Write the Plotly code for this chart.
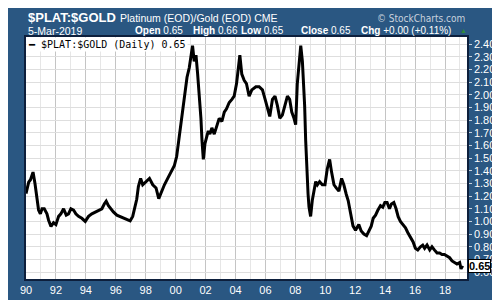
import plotly.graph_objects as go

# ---- data (decimal year, ratio) ----
YEARS = [
    1990.00, 1990.05, 1990.18, 1990.30, 1990.47, 1990.60, 1990.73, 1990.84, 1990.96,
    1991.07, 1991.22, 1991.40, 1991.51, 1991.67, 1991.84, 1992.00, 1992.18, 1992.33,
    1992.51, 1992.69, 1992.84, 1993.00, 1993.18, 1993.33, 1993.51, 1993.73, 1993.96,
    1994.18, 1994.40, 1994.62, 1994.84, 1995.07, 1995.24, 1995.36, 1995.51, 1995.67,
    1995.84, 1996.07, 1996.29, 1996.51, 1996.73, 1996.96, 1997.13, 1997.24, 1997.40,
    1997.51, 1997.66, 1997.80, 1998.02, 1998.25, 1998.47, 1998.69, 1998.87, 1999.02,
    1999.25, 1999.47, 1999.69, 1999.91, 2000.07, 2000.20, 2000.36, 2000.47, 2000.62,
    2000.76, 2000.91, 2001.02, 2001.13, 2001.24, 2001.36, 2001.47, 2001.58, 2001.69,
    2001.76, 2001.85, 2001.96, 2002.07, 2002.18, 2002.29, 2002.42, 2002.58, 2002.73,
    2002.91, 2003.09, 2003.25, 2003.40, 2003.58, 2003.76, 2003.91, 2004.07, 2004.20,
    2004.29, 2004.42, 2004.58, 2004.73, 2004.91, 2005.09, 2005.36, 2005.58, 2005.80,
    2005.98, 2006.13, 2006.29, 2006.47, 2006.64, 2006.80, 2006.96, 2007.13, 2007.31,
    2007.47, 2007.62, 2007.76, 2007.91, 2008.02, 2008.13, 2008.25, 2008.36, 2008.47,
    2008.54, 2008.62, 2008.69, 2008.76, 2008.85, 2008.91, 2009.02, 2009.13, 2009.25,
    2009.36, 2009.47, 2009.62, 2009.80, 2009.98, 2010.13, 2010.29, 2010.42, 2010.58,
    2010.73, 2010.91, 2011.09, 2011.24, 2011.40, 2011.53, 2011.69, 2011.85, 2012.02,
    2012.24, 2012.40, 2012.58, 2012.76, 2012.91, 2013.07, 2013.20, 2013.36, 2013.51,
    2013.69, 2013.84, 2013.98, 2014.13, 2014.29, 2014.42, 2014.58, 2014.73, 2014.87,
    2015.02, 2015.20, 2015.36, 2015.51, 2015.69, 2015.87, 2016.02, 2016.18, 2016.36,
    2016.51, 2016.64, 2016.80, 2016.98, 2017.13, 2017.29, 2017.47, 2017.64, 2017.80,
    2017.96, 2018.13, 2018.31, 2018.47, 2018.62, 2018.80, 2018.98, 2019.07, 2019.18,
]
RATIO = [
    1.22, 1.25, 1.31, 1.33, 1.39, 1.30, 1.175, 1.09, 1.06,
    1.10, 1.10, 1.06, 1.01, 0.96, 0.99, 0.975, 1.04, 1.06,
    1.10, 1.05, 1.06, 1.10, 1.09, 1.06, 1.04, 1.025, 1.00,
    1.04, 1.06, 1.075, 1.09, 1.10, 1.14, 1.16, 1.125, 1.10,
    1.075, 1.05, 1.04, 1.03, 1.02, 1.005, 1.04, 1.09, 1.175,
    1.275, 1.34, 1.29, 1.315, 1.34, 1.29, 1.265, 1.18, 1.23,
    1.29, 1.34, 1.39, 1.44, 1.515, 1.64, 1.765, 1.89, 2.015,
    2.14, 2.215, 2.29, 2.39, 2.265, 2.315, 2.165, 2.015, 1.815,
    1.64, 1.49, 1.615, 1.665, 1.715, 1.69, 1.74, 1.69, 1.74,
    1.815, 1.79, 1.865, 1.89, 1.94, 1.965, 1.99, 2.09, 2.24,
    2.315, 2.165, 2.115, 2.09, 1.99, 2.04, 2.065, 2.065, 2.04,
    1.965, 1.89, 1.83, 1.965, 1.99, 1.915, 1.815, 1.84, 1.915,
    1.99, 1.965, 1.865, 1.815, 1.765, 2.09, 2.29, 2.39, 2.265,
    2.14, 1.915, 1.64, 1.415, 1.215, 1.115, 1.04, 1.165, 1.265,
    1.315, 1.29, 1.315, 1.29, 1.29, 1.415, 1.49, 1.39, 1.29,
    1.265, 1.24, 1.34, 1.29, 1.215, 1.165, 1.065, 0.965, 0.93,
    0.975, 0.925, 0.90, 0.888, 0.925, 0.963, 1.025, 1.05, 1.088,
    1.125, 1.113, 1.15, 1.15, 1.10, 1.138, 1.15, 1.10, 1.038,
    1.00, 0.975, 0.95, 0.913, 0.875, 0.838, 0.788, 0.775, 0.80,
    0.813, 0.788, 0.813, 0.775, 0.80, 0.775, 0.75, 0.75, 0.738,
    0.738, 0.725, 0.713, 0.688, 0.675, 0.663, 0.675, 0.625, 0.65,
]
TICK_YEARS = [1990, 1992, 1994, 1996, 1998, 2000, 2002, 2004, 2006, 2008,
              2010, 2012, 2014, 2016, 2018]
TICK_LABELS = ["90", "92", "94", "96", "98", "00", "02", "04", "06", "08",
               "10", "12", "14", "16", "18"]
LAST_VALUE = 0.65

BG = "#2a5782"
W, H = 500, 300
L, R, T, B = 16, 41, 29, 16
PW, PH = W - L - R, H - T - B


def px(x):
    return (x - L) / PW


def py(y):
    return (H - B - y) / PH


fig = go.Figure()
fig.add_trace(go.Scatter(x=YEARS, y=RATIO, mode="lines",
                         line=dict(color="black", width=3),
                         showlegend=False, hoverinfo="skip"))

fig.update_layout(
    width=W, height=H,
    margin=dict(l=L, r=R, t=T, b=B),
    paper_bgcolor=BG, plot_bgcolor="white",
    font=dict(family="Liberation Sans, Arial", color="white", size=11),
    xaxis=dict(range=[1990, 2019.47], tickmode="array", tickvals=TICK_YEARS,
               ticktext=TICK_LABELS, showgrid=True, gridcolor="#c4c4c4",
               gridwidth=1, ticks="", zeroline=False,
               showline=True, mirror=True, linecolor="#0d1f3c", linewidth=1.5,
               tickfont=dict(size=11, color="white"),
               minor=dict(tickmode="linear", tick0=1990, dtick=1, showgrid=True,
                          gridcolor="#e6e6e6", ticks="")),
    yaxis=dict(range=[0.545, 2.458], side="right", tickmode="linear",
               tick0=0.6, dtick=0.1, tickformat=".2f", showgrid=True,
               gridcolor="#dedede", ticks="outside", ticklen=3,
               tickcolor="#c8d2de", zeroline=False,
               showline=True, mirror=True, linecolor="#0d1f3c", linewidth=1.5,
               tickfont=dict(size=11, color="white")),
)

ann = []
ann.append(dict(x=px(16), y=py(8), xref="paper", yref="paper", xanchor="left",
                yanchor="middle", showarrow=False, text="<b>$PLAT:$GOLD</b>",
                font=dict(size=13, color="white", family="Liberation Sans")))
ann.append(dict(x=px(108), y=py(8.5), xref="paper", yref="paper", xanchor="left",
                yanchor="middle", showarrow=False,
                text="Platinum (EOD)/Gold (EOD) CME",
                font=dict(size=10.5, color="white", family="Liberation Sans")))
ann.append(dict(x=px(459), y=py(9), xref="paper", yref="paper", xanchor="right",
                yanchor="middle", showarrow=False, text="© StockCharts.com",
                font=dict(size=10, color="#c9d2dd", family="DejaVu Sans Condensed, Liberation Sans")))
ann.append(dict(x=px(16), y=py(22.5), xref="paper", yref="paper", xanchor="left",
                yanchor="middle", showarrow=False, text="5-Mar-2019",
                font=dict(size=10.5, color="white", family="Liberation Sans")))
for xpos, txt in [(123, "<b>Open</b> 0.65"), (182, "<b>High</b> 0.66"),
                  (230, "<b>Low</b> 0.65"), (290, "<b>Close</b> 0.65"),
                  (351, "<b>Chg</b> +0.00 (+0.11%)")]:
    ann.append(dict(x=px(xpos), y=py(22.5), xref="paper", yref="paper",
                    xanchor="left", yanchor="middle", showarrow=False, text=txt,
                    font=dict(size=10, color="white", family="Liberation Sans")))
ann.append(dict(x=px(455), y=py(22), xref="paper", yref="paper", xanchor="center",
                yanchor="middle", showarrow=False, text="▲",
                font=dict(size=7, color="#2e8b3a")))
# in-plot legend
ann.append(dict(x=0, y=1, xref="paper", yref="paper", xanchor="left",
                yanchor="top", showarrow=False, align="left",
                text="━ $PLAT:$GOLD (Daily) 0.65", bgcolor="white", borderpad=1,
                font=dict(size=10, color="black", family="DejaVu Sans Mono")))
# last value tag
ann.append(dict(x=1, y=LAST_VALUE, xref="paper", yref="y", xanchor="left",
                yanchor="middle", showarrow=False, xshift=1,
                text="<b>%.2f</b>" % LAST_VALUE, bgcolor="white",
                bordercolor="black", borderwidth=1, borderpad=0,
                font=dict(size=11, color="black",
                          family="Liberation Sans Narrow, Liberation Sans")))
fig.update_layout(annotations=ann)

fig.write_html("out.html")
